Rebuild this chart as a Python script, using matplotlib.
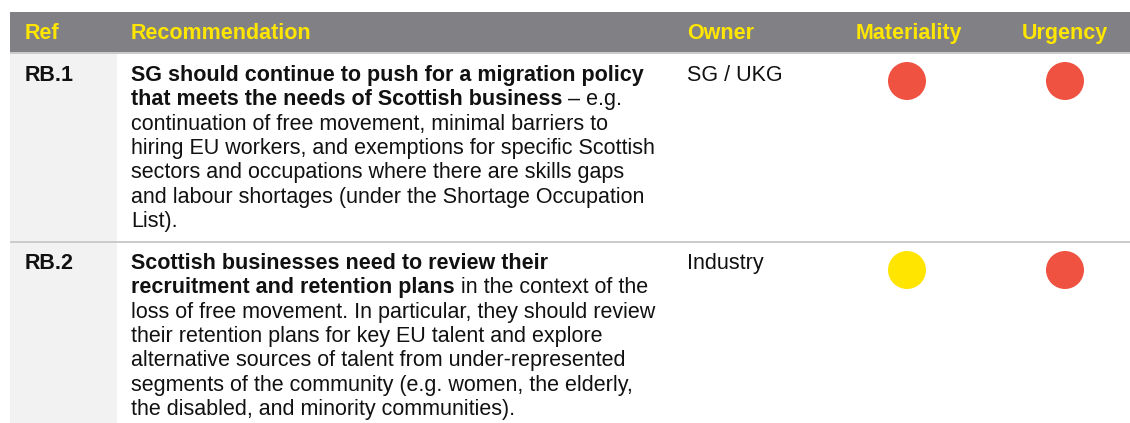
import matplotlib
matplotlib.use('Agg')
import matplotlib.pyplot as plt
from matplotlib.patches import Rectangle

plt.rcParams['font.family'] = ['Liberation Sans', 'DejaVu Sans']

# table content
headers = ['Ref', 'Recommendation', 'Owner', 'Materiality', 'Urgency']
refs = ['RB.1', 'RB.2']
owners = ['SG / UKG', 'Industry']
materiality = ['high', 'medium']
urgency = ['high', 'high']

# each line: (bold part, regular part)
rec_lines = [
    [('SG should continue to push for a migration policy', ''),
     ('that meets the needs of Scottish business', ' \u2013 e.g.'),
     ('', 'continuation of free movement, minimal barriers to'),
     ('', 'hiring EU workers, and exemptions for specific Scottish'),
     ('', 'sectors and occupations where there are skills gaps'),
     ('', 'and labour shortages (under the Shortage Occupation'),
     ('', 'List).')],
    [('Scottish businesses need to review their', ''),
     ('recruitment and retention plans', ' in the context of the'),
     ('', 'loss of free movement. In particular, they should review'),
     ('', 'their retention plans for key EU talent and explore'),
     ('', 'alternative sources of talent from under-represented'),
     ('', 'segments of the community (e.g. women, the elderly,'),
     ('', 'the disabled, and minority communities).')],
]

rating_colors = {'high': '#ef5241', 'medium': '#ffe500'}

W, H = 1130, 423
fig = plt.figure(figsize=(W / 100, H / 100), dpi=100)
ax = fig.add_axes([0, 0, 1, 1])
ax.set_xlim(0, W)
ax.set_ylim(H, 0)
ax.axis('off')

col_x = [25, 131, 687, 856, 1022]
circle_x = [907, 1065]
fs = 15.5
line_h = 24.3
row_top = [54, 243]
first_base = [81, 269]

# header
ax.add_patch(Rectangle((10, 12), W - 10, 40, color='#808085', lw=0))
for x, h in zip(col_x, headers):
    ax.text(x, 39, h, color='#ffe600', fontsize=fs, fontweight='bold', va='baseline')

# ref column background
ax.add_patch(Rectangle((10, 54), 107, H - 54, color='#f2f2f2', lw=0))

# separators
ax.add_patch(Rectangle((10, 52), W - 10, 2.5, color='#cbcbcb', lw=0))
ax.add_patch(Rectangle((10, 241), W - 10, 2.5, color='#cbcbcb', lw=0))

fig.canvas.draw()
renderer = fig.canvas.get_renderer()

for i in range(len(refs)):
    yb = first_base[i]
    ax.text(col_x[0], yb, refs[i], fontsize=fs, fontweight='bold', va='baseline', color='#111111')
    ax.text(col_x[2], yb, owners[i], fontsize=fs, va='baseline', color='#111111')
    for j, (b, r) in enumerate(rec_lines[i]):
        y = yb + j * line_h
        x = col_x[1]
        if b:
            t = ax.text(x, y, b, fontsize=fs, fontweight='bold', va='baseline', color='#111111')
            x += t.get_window_extent(renderer).width
        if r:
            ax.text(x, y, r, fontsize=fs, va='baseline', color='#111111')
    cy = row_top[i] + 27
    ax.scatter(circle_x, [cy, cy], s=(19 * 2 * 0.72) ** 2,
               c=[rating_colors[materiality[i]], rating_colors[urgency[i]]], lw=0, zorder=3)

fig.savefig('out.png', dpi=100)
